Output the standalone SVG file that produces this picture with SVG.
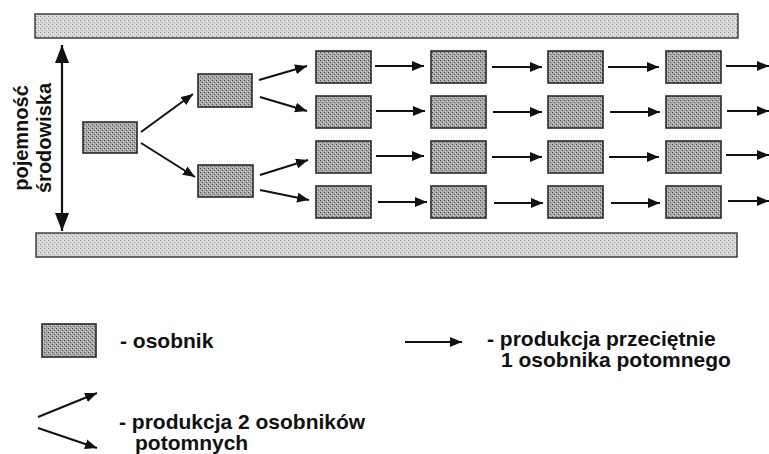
<svg xmlns="http://www.w3.org/2000/svg" width="769" height="454" viewBox="0 0 769 454">
  <style>
    .ind { fill: url(#stip); stroke: #2a2a2a; stroke-width: 1.6; }
    .bar { fill: url(#stipLight); stroke: #333; stroke-width: 1.4; }
    .conn { stroke: #111; stroke-width: 2; fill: none; marker-end: url(#ah); }
    .lbl { font-family: "Liberation Sans", Arial, sans-serif; font-weight: bold; font-size: 21px; fill: #111; }
    .side { font-family: "Liberation Sans", Arial, sans-serif; font-weight: bold; font-size: 20px; fill: #111; }
  </style>
  <defs>
    <!-- halftone texture of the individual boxes -->
    <pattern id="stip" width="4" height="4" patternUnits="userSpaceOnUse">
      <rect width="4" height="4" fill="#a8a8a8"/>
      <rect x="0" y="0" width="1" height="1" fill="#4f4f4f"/>
      <rect x="2" y="2" width="1" height="1" fill="#606060"/>
      <rect x="1" y="3" width="1" height="1" fill="#d2d2d2"/>
      <rect x="3" y="1" width="1" height="1" fill="#cfcfcf"/>
    </pattern>
    <!-- lighter texture of the boundary bars -->
    <pattern id="stipLight" width="4" height="4" patternUnits="userSpaceOnUse">
      <rect width="4" height="4" fill="#d8d8d8"/>
      <rect x="0" y="0" width="1" height="1" fill="#8a8a8a"/>
      <rect x="2" y="2" width="1" height="1" fill="#a0a0a0"/>
      <rect x="3" y="1" width="1" height="1" fill="#f0f0f0"/>
    </pattern>
    <marker id="ah" viewBox="0 0 12 10" refX="12" refY="5" markerWidth="12" markerHeight="10" markerUnits="userSpaceOnUse" orient="auto">
      <path d="M0,0 L12,5 L0,10 z" fill="#111"/>
    </marker>
    <marker id="ahBig" viewBox="0 0 18 14" refX="18" refY="7" markerWidth="18" markerHeight="14" markerUnits="userSpaceOnUse" orient="auto">
      <path d="M0,0 L18,7 L0,14 z" fill="#111"/>
    </marker>
  </defs>

  <!-- environment boundaries -->
  <g id="bar-top"><rect class="bar" x="35" y="14" width="703" height="24"/></g>
  <g id="bar-bottom"><rect class="bar" x="36" y="233" width="701" height="24"/></g>

  <!-- carrying capacity axis label -->
  <g id="capacity-label">
    <text class="side" transform="translate(28,138) rotate(-90)" text-anchor="middle">pojemność</text>
    <text class="side" transform="translate(51,138) rotate(-90)" text-anchor="middle">środowiska</text>
  </g>

  <!-- individuals -->
  <g id="gen0"><rect class="ind" x="83" y="122" width="54" height="31"/></g>
  <g id="gen1-a"><rect class="ind" x="198" y="74" width="54" height="33"/></g>
  <g id="gen1-b"><rect class="ind" x="198" y="165" width="55" height="32"/></g>

  <g id="r1c1"><rect class="ind" x="316" y="51" width="55" height="32"/></g>
  <g id="r1c2"><rect class="ind" x="431" y="51" width="55" height="32"/></g>
  <g id="r1c3"><rect class="ind" x="548" y="51" width="55" height="32"/></g>
  <g id="r1c4"><rect class="ind" x="666" y="51" width="55" height="32"/></g>

  <g id="r2c1"><rect class="ind" x="316" y="96" width="55" height="32"/></g>
  <g id="r2c2"><rect class="ind" x="431" y="96" width="55" height="32"/></g>
  <g id="r2c3"><rect class="ind" x="548" y="96" width="55" height="32"/></g>
  <g id="r2c4"><rect class="ind" x="666" y="96" width="55" height="32"/></g>

  <g id="r3c1"><rect class="ind" x="316" y="141" width="55" height="32"/></g>
  <g id="r3c2"><rect class="ind" x="431" y="141" width="55" height="32"/></g>
  <g id="r3c3"><rect class="ind" x="548" y="141" width="55" height="32"/></g>
  <g id="r3c4"><rect class="ind" x="666" y="141" width="55" height="32"/></g>

  <g id="r4c1"><rect class="ind" x="316" y="186" width="55" height="32"/></g>
  <g id="r4c2"><rect class="ind" x="431" y="186" width="55" height="32"/></g>
  <g id="r4c3"><rect class="ind" x="548" y="186" width="55" height="32"/></g>
  <g id="r4c4"><rect class="ind" x="666" y="186" width="55" height="32"/></g>

  <!-- connectors -->
  <g id="connectors">
    <line x1="62" y1="138" x2="62" y2="45" stroke="#111" stroke-width="2.2" marker-end="url(#ahBig)"/>
    <line x1="62" y1="138" x2="62" y2="231" stroke="#111" stroke-width="2.2" marker-end="url(#ahBig)"/>

    <line class="conn" x1="141" y1="132" x2="193" y2="94"/>
    <line class="conn" x1="141" y1="143" x2="195" y2="177"/>

    <line class="conn" x1="259" y1="80" x2="307" y2="66"/>
    <line class="conn" x1="260" y1="97" x2="307" y2="111"/>
    <line class="conn" x1="260" y1="175" x2="308" y2="160"/>
    <line class="conn" x1="260" y1="190" x2="309" y2="200"/>

    <line class="conn" x1="375" y1="66" x2="424" y2="66"/>
    <line class="conn" x1="492" y1="67" x2="542" y2="67"/>
    <line class="conn" x1="608" y1="67" x2="659" y2="67"/>
    <line class="conn" x1="726" y1="66" x2="769" y2="66"/>

    <line class="conn" x1="376" y1="111" x2="425" y2="111"/>
    <line class="conn" x1="493" y1="112" x2="542" y2="112"/>
    <line class="conn" x1="610" y1="112" x2="660" y2="112"/>
    <line class="conn" x1="727" y1="111" x2="769" y2="111"/>

    <line class="conn" x1="376" y1="156" x2="424" y2="156"/>
    <line class="conn" x1="492" y1="157" x2="542" y2="157"/>
    <line class="conn" x1="609" y1="157" x2="659" y2="157"/>
    <line class="conn" x1="726" y1="155" x2="769" y2="155"/>

    <line class="conn" x1="378" y1="202" x2="427" y2="202"/>
    <line class="conn" x1="494" y1="203" x2="543" y2="203"/>
    <line class="conn" x1="611" y1="203" x2="660" y2="203"/>
    <line class="conn" x1="728" y1="201" x2="769" y2="201"/>
  </g>

  <!-- legend -->
  <g id="legend-individual">
    <rect class="ind" x="42" y="324" width="54" height="33"/>
    <text class="lbl" x="120" y="348">- osobnik</text>
  </g>
  <g id="legend-one">
    <line class="conn" x1="405" y1="342" x2="462" y2="342" stroke-width="1.6"/>
    <text class="lbl" x="487" y="346">- produkcja przeciętnie</text>
    <text class="lbl" x="501" y="367">1 osobnika potomnego</text>
  </g>
  <g id="legend-two">
    <line class="conn" x1="38" y1="417" x2="97" y2="393" stroke-width="1.6"/>
    <line class="conn" x1="38" y1="428" x2="97" y2="448" stroke-width="1.6"/>
    <text class="lbl" x="119" y="429">- produkcja 2 osobników</text>
    <text class="lbl" x="135" y="450">potomnych</text>
  </g>
</svg>
